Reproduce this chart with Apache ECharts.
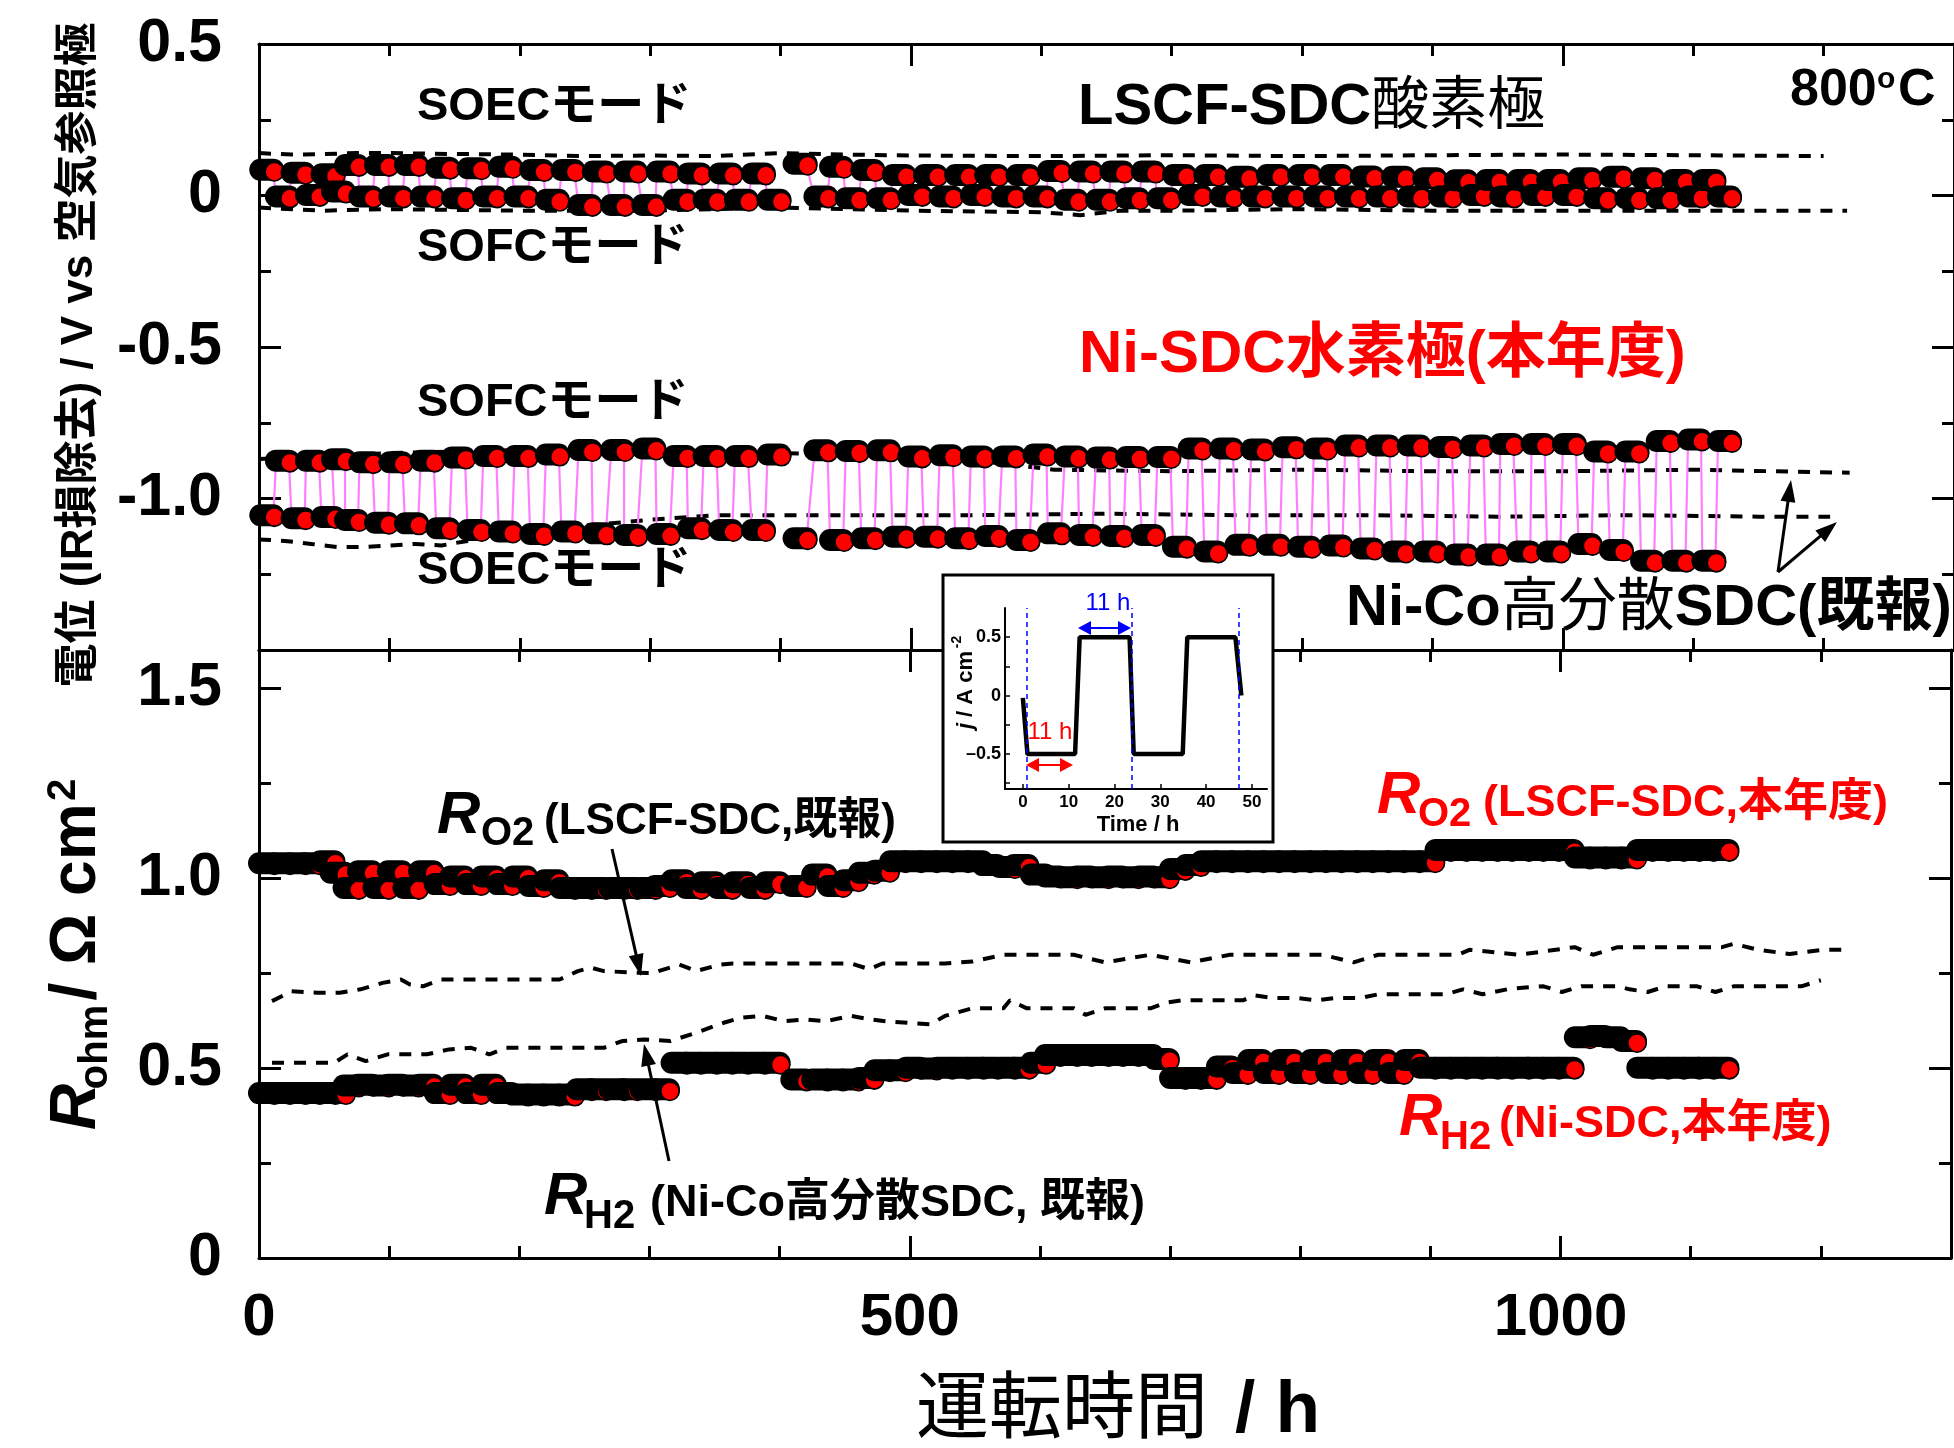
<!DOCTYPE html>
<html>
<head>
<meta charset="utf-8">
<script src="https://cdn.jsdelivr.net/npm/echarts@6.0.0/dist/echarts.min.js"></script>
<style>
html, body { margin: 0; padding: 0; background: #fff; }
#chart { width: 1954px; height: 1448px; }
</style>
</head>
<body>
<div id="chart"></div>
<script>
var FONT = '"Liberation Sans", "Noto Sans CJK JP", sans-serif';

// end time (h) of each SOEC / SOFC half-cycle
var soecTimes = [11,35,58,76,99,122,146,170,194,218,242,266,290,315,339,363,388,420,448,472,496,520,544,567,591,615,639,663,687,711,735,759,783,807,831,855,879,903,927,951,975,998,1022,1046,1070,1094,1117];
var sofcTimes = [23,46,66,87,110,134,158,182,206,230,255,280,304,328,351,375,400,436,460,484,508,532,556,580,604,628,652,675,699,723,747,771,795,819,843,867,891,915,939,962,986,1010,1034,1058,1082,1106,1129];

// potential, LSCF-SDC oxygen electrode (V)
var lscfSoec = [0.08,0.07,0.065,0.096,0.096,0.096,0.087,0.085,0.09,0.079,0.079,0.074,0.074,0.074,0.068,0.068,0.068,0.1,0.09,0.079,0.063,0.063,0.063,0.063,0.063,0.076,0.074,0.074,0.074,0.063,0.063,0.057,0.063,0.063,0.063,0.058,0.057,0.052,0.045,0.046,0.046,0.046,0.052,0.057,0.052,0.046,0.046];
var lscfSofc = [-0.008,-0.003,0.008,-0.008,-0.008,-0.008,-0.014,-0.008,-0.008,-0.019,-0.036,-0.036,-0.036,-0.019,-0.019,-0.019,-0.019,-0.008,-0.014,-0.014,-0.003,-0.008,-0.003,-0.008,-0.008,-0.019,-0.019,-0.014,-0.014,-0.003,-0.008,-0.008,-0.008,-0.008,-0.008,-0.008,-0.008,-0.008,-0.003,-0.008,-0.003,-0.003,-0.014,-0.014,-0.014,-0.008,-0.008];

// potential, Ni-SDC hydrogen electrode (V)
var niSdcSofc = [-0.88,-0.88,-0.875,-0.885,-0.885,-0.88,-0.87,-0.865,-0.865,-0.86,-0.845,-0.845,-0.84,-0.865,-0.865,-0.865,-0.86,-0.846,-0.848,-0.846,-0.866,-0.862,-0.866,-0.866,-0.86,-0.866,-0.87,-0.868,-0.868,-0.84,-0.84,-0.843,-0.836,-0.84,-0.83,-0.83,-0.83,-0.835,-0.83,-0.825,-0.825,-0.825,-0.85,-0.85,-0.815,-0.81,-0.815];
var niSdcSoec = [-1.06,-1.07,-1.066,-1.076,-1.085,-1.087,-1.103,-1.109,-1.114,-1.122,-1.114,-1.12,-1.125,-1.122,-1.103,-1.109,-1.109,-1.136,-1.142,-1.136,-1.131,-1.131,-1.136,-1.129,-1.142,-1.12,-1.125,-1.129,-1.125,-1.164,-1.18,-1.158,-1.158,-1.164,-1.16,-1.17,-1.18,-1.18,-1.19,-1.19,-1.18,-1.18,-1.155,-1.175,-1.21,-1.21,-1.21];

// ohmic resistance (ohm cm2)
var rO2Soec = [1.035,1.035,1.04,0.97,0.97,0.97,0.98,0.98,0.98,0.975,0.97,0.97,0.97,0.975,0.97,0.97,0.97,0.975,0.975,1.01,1.04,1.04,1.04,1.03,1.03,1.0,1.0,1.0,1.0,1.02,1.04,1.04,1.04,1.04,1.04,1.04,1.04,1.04,1.07,1.07,1.07,1.07,1.05,1.05,1.07,1.07,1.07];
var rO2Sofc = [1.035,1.035,1.01,1.014,1.014,1.014,1.0,1.0,1.0,0.99,0.97,0.97,0.97,0.99,0.985,0.985,0.985,1.005,0.99,1.015,1.04,1.04,1.04,1.025,1.005,0.998,0.998,0.998,0.998,1.03,1.04,1.04,1.04,1.04,1.04,1.04,1.04,1.07,1.07,1.07,1.07,1.07,1.05,1.05,1.07,1.07,1.07];
var rH2Soec = [0.43,0.43,0.43,0.45,0.45,0.45,0.43,0.43,0.43,0.426,0.426,0.44,0.44,0.44,0.51,0.51,0.51,0.466,0.466,0.47,0.49,0.495,0.497,0.497,0.497,0.53,0.53,0.53,0.53,0.47,0.47,0.483,0.483,0.483,0.483,0.483,0.483,0.497,0.497,0.497,0.497,0.497,0.577,0.577,0.497,0.497,0.497];
var rH2Sofc = [0.43,0.43,0.43,0.452,0.452,0.452,0.452,0.452,0.426,0.426,0.44,0.44,0.44,0.51,0.51,0.51,0.51,0.466,0.466,0.49,0.497,0.497,0.497,0.497,0.51,0.53,0.53,0.53,0.52,0.47,0.5,0.517,0.517,0.517,0.517,0.517,0.517,0.497,0.497,0.497,0.497,0.497,0.58,0.567,0.497,0.497,0.497];

// previous report (dashed)
var prevO2SoecT = [0,25,50,75,100,150,200,250,300,350,400,450,500,600,700,800,900,1000,1100,1200];
var prevO2SoecV = [0.14,0.135,0.137,0.14,0.14,0.137,0.135,0.13,0.132,0.13,0.14,0.135,0.132,0.13,0.133,0.13,0.133,0.135,0.133,0.13];
var prevO2SofcT = [0,50,100,200,300,400,500,600,630,660,700,800,900,1000,1100,1218];
var prevO2SofcV = [-0.04,-0.05,-0.045,-0.05,-0.05,-0.04,-0.05,-0.055,-0.065,-0.05,-0.05,-0.045,-0.05,-0.05,-0.05,-0.05];
var prevH2SofcT = [0,100,200,300,400,450,550,610,700,800,900,1000,1100,1220];
var prevH2SofcV = [-0.87,-0.85,-0.84,-0.84,-0.85,-0.855,-0.875,-0.905,-0.91,-0.905,-0.91,-0.91,-0.905,-0.915];
var prevH2SoecT = [0,20,40,60,80,100,120,140,160,180,250,300,350,450,550,650,750,850,950,1050,1150,1205];
var prevH2SoecV = [-1.135,-1.14,-1.15,-1.16,-1.16,-1.155,-1.15,-1.155,-1.14,-1.12,-1.09,-1.07,-1.055,-1.055,-1.055,-1.05,-1.055,-1.055,-1.06,-1.055,-1.06,-1.06];
var prevRO2T = [10,25,45,62,78,95,109,116,126,140,231,245,255,265,289,302,323,336,354,364,455,469,479,527,548,572,626,650,685,716,746,817,841,860,921,930,968,1011,1025,1044,1124,1133,1152,1176,1202,1218];
var prevRO2V = [0.676,0.702,0.698,0.698,0.707,0.724,0.733,0.72,0.715,0.733,0.733,0.755,0.764,0.755,0.751,0.75,0.772,0.755,0.772,0.775,0.775,0.76,0.775,0.775,0.78,0.798,0.798,0.778,0.798,0.778,0.798,0.798,0.778,0.798,0.798,0.811,0.798,0.818,0.798,0.818,0.818,0.827,0.811,0.8,0.811,0.811];
var prevRH2T = [10,58,68,82,99,129,146,163,177,190,265,279,296,316,336,357,370,387,404,420,435,455,469,482,516,527,548,572,577,590,626,635,650,685,697,709,756,765,779,798,812,827,846,860,912,925,940,959,973,987,1001,1016,1044,1053,1067,1081,1105,1119,1133,1185,1200];
var prevRH2V = [0.514,0.514,0.536,0.518,0.536,0.536,0.549,0.553,0.536,0.553,0.553,0.571,0.575,0.571,0.593,0.619,0.632,0.637,0.623,0.628,0.623,0.637,0.628,0.623,0.615,0.637,0.657,0.657,0.678,0.657,0.657,0.64,0.657,0.657,0.672,0.678,0.678,0.691,0.684,0.684,0.678,0.684,0.684,0.694,0.694,0.707,0.694,0.707,0.712,0.715,0.7,0.715,0.715,0.707,0.7,0.715,0.715,0.7,0.715,0.715,0.731];

// inset: current profile
var insetT = [0,1,11.4,12.4,23.3,24.2,34.9,35.9,46.4,47.7];
var insetJ = [-0.02,-0.5,-0.5,0.5,0.5,-0.5,-0.5,0.5,0.5,0];
var insetMarks = [0.9,23.8,47.2];

// tick labels
var xTickVals = [0,500,1000], xTickLabels = ['0','500','1000'];
var yTopVals = [-1.0,-0.5,0,0.5], yTopLabels = ['-1.0','-0.5','0','0.5'];
var yBotVals = [0,0.5,1.0,1.5], yBotLabels = ['0','0.5','1.0','1.5'];
var insetXVals = [0,10,20,30,40,50];
var insetYVals = [-0.5,0,0.5], insetYLabels = ['\u20130.5','0','0.5'];

function pick(vals, labels) {
  return function (v) {
    for (var i = 0; i < vals.length; i++) if (Math.abs(vals[i] - v) < 1e-6) return labels[i];
    return '';
  };
}
function pairs(t, v) { return t.map(function (x, i) { return [x, v[i]]; }); }
function seg(times, vals, dur) { return times.map(function (t, i) { return [t - dur, t, vals[i]]; }); }
function byTime(a, b) { return a.concat(b).sort(function (p, q) { return p[1] - q[1]; }); }
function zigzag(list) {
  var out = [];
  list.forEach(function (s, i) {
    if (i > 0 && s[0] - list[i - 1][1] > 6) out.push([s[0], '-']);
    out.push([s[0], s[2]], [s[1], s[2]]);
  });
  return out;
}

var o2Top = byTime(seg(soecTimes, lscfSoec, 10), seg(sofcTimes, lscfSofc, 10));
var h2Top = byTime(seg(soecTimes, niSdcSoec, 10), seg(sofcTimes, niSdcSofc, 10));
var o2Bot = byTime(seg(soecTimes, rO2Soec, 11), seg(sofcTimes, rO2Sofc, 11));
var h2Bot = byTime(seg(soecTimes, rH2Soec, 11), seg(sofcTimes, rH2Sofc, 11));

function blob(params, api) {
  var a = api.coord([api.value(0), api.value(2)]);
  var b = api.coord([api.value(1), api.value(2)]);
  var R = 11;
  return {
    type: 'group',
    children: [
      { type: 'rect', shape: { x: a[0] - R, y: b[1] - R - 1.5, width: b[0] - a[0] + 2 * R, height: 2 * R, r: R }, style: { fill: '#000' } },
      { type: 'circle', shape: { cx: b[0] + 1, cy: b[1] + 0.5, r: 9.2 }, style: { fill: '#ff0000', stroke: '#000', lineWidth: 1.6 } }
    ]
  };
}

var tickStyle = { color: '#000', width: 3 };
function xAx(grid, pos, interval, len, labels) {
  return {
    type: 'value', gridIndex: grid, position: pos, min: 0, max: 1300, interval: interval,
    axisLine: { show: len > 15, onZero: false, lineStyle: tickStyle },
    axisTick: { show: true, inside: true, length: len, lineStyle: tickStyle },
    axisLabel: labels ? { show: true, margin: 30, fontSize: 60, fontWeight: 'bold', fontFamily: FONT, color: '#000', formatter: pick(xTickVals, xTickLabels) } : { show: false },
    splitLine: { show: false }
  };
}
function yAx(grid, pos, min, max, interval, len, fmt) {
  return {
    type: 'value', gridIndex: grid, position: pos, min: min, max: max, interval: interval,
    axisLine: { show: len > 15, onZero: false, lineStyle: tickStyle },
    axisTick: { show: true, inside: true, length: len, lineStyle: tickStyle },
    axisLabel: fmt ? { show: true, margin: 37, fontSize: 61, fontWeight: 'bold', fontFamily: FONT, color: '#000', formatter: fmt } : { show: false },
    splitLine: { show: false }
  };
}
function dashed(ax, t, v) {
  return { type: 'line', xAxisIndex: ax, yAxisIndex: ax, data: pairs(t, v), symbol: 'none', silent: true, z: 2,
    lineStyle: { color: '#000', width: 4, type: [12, 10] } };
}
function zig(ax, list) {
  return { type: 'line', xAxisIndex: ax, yAxisIndex: ax, data: zigzag(list), symbol: 'none', silent: true, z: 3,
    connectNulls: false, lineStyle: { color: '#ff80ff', width: 2.2 } };
}
function blobs(ax, list) {
  return { type: 'custom', xAxisIndex: ax, yAxisIndex: ax, data: list, renderItem: blob, z: 4, clip: false, silent: true,
    encode: { x: [0, 1], y: 2 } };
}

function txt(x, y, s, size, o) {
  o = o || {};
  var st = {
    text: s, x: 0, y: 0, fontSize: size, fontWeight: o.weight || 'bold', fontStyle: o.italic ? 'italic' : 'normal',
    fontFamily: FONT, fill: o.color || '#000',
    align: o.align || 'left', verticalAlign: 'middle', textAlign: o.align || 'left', textVerticalAlign: 'middle'
  };
  if (o.rich) st.rich = o.rich;
  return { type: 'text', x: x, y: y, rotation: o.rot || 0, z: o.z || 40, silent: true, style: st };
}
function arrow(x1, y1, x2, y2, color, w, hl, hw, both) {
  var a = Math.atan2(y2 - y1, x2 - x1), c = Math.cos(a), s = Math.sin(a);
  function head(px, py, dc, ds) {
    var bx = px - hl * dc, by = py - hl * ds;
    return { type: 'polygon', z: 45, silent: true,
      shape: { points: [[px, py], [bx + hw / 2 * ds, by - hw / 2 * dc], [bx - hw / 2 * ds, by + hw / 2 * dc]] },
      style: { fill: color } };
  }
  var sx = both ? x1 + hl * 0.8 * c : x1, sy = both ? y1 + hl * 0.8 * s : y1;
  var els = [{ type: 'line', z: 45, silent: true, shape: { x1: sx, y1: sy, x2: x2 - hl * 0.8 * c, y2: y2 - hl * 0.8 * s },
    style: { stroke: color, lineWidth: w } }, head(x2, y2, c, s)];
  if (both) els.push(head(x1, y1, -c, -s));
  return els;
}

var RED = '#ff0000';
var g = [];
// inset frame
g.push({ type: 'rect', z: 10, silent: true, shape: { x: 943, y: 575, width: 330, height: 267 }, style: { fill: '#fff', stroke: '#000', lineWidth: 3 } });
// mode labels
g.push(txt(417, 107, 'SOECモード', 47));
g.push(txt(417, 248, 'SOFCモード', 47));
g.push(txt(417, 403, 'SOFCモード', 47));
g.push(txt(417, 571, 'SOECモード', 47));
g.push(txt(1078, 108, '{b|LSCF-SDC}{n|酸素極}', 58, { rich: {
  b: { fontSize: 58, fontWeight: 'bold', fontFamily: FONT, fill: '#000' },
  n: { fontSize: 58, fontWeight: 'normal', fontFamily: FONT, fill: '#000' } } }));
g.push(txt(1790, 91, '800', 52));
g.push(txt(1877, 80, 'o', 30));
g.push(txt(1898, 91, 'C', 52));
g.push(txt(1079, 355, 'Ni-SDC水素極(本年度)', 60, { color: RED }));
g.push(txt(1346, 609, '{b|Ni-Co}{n|高分散}{b|SDC(既報)}', 58, { rich: {
  b: { fontSize: 58, fontWeight: 'bold', fontFamily: FONT, fill: '#000' },
  n: { fontSize: 58, fontWeight: 'normal', fontFamily: FONT, fill: '#000' } } }));
g = g.concat(arrow(1778, 572, 1791, 480, '#000', 3, 22, 15));
g = g.concat(arrow(1778, 572, 1837, 522, '#000', 3, 22, 15));
// resistance labels
g.push(txt(437, 816, 'R', 60, { italic: true }));
g.push(txt(481, 834, 'O2', 40));
g.push(txt(544, 822, '(LSCF-SDC,既報)', 44));
g.push(txt(1377, 796, 'R', 60, { italic: true, color: RED }));
g.push(txt(1418, 815, 'O2', 40, { color: RED }));
g.push(txt(1483, 804, '(LSCF-SDC,本年度)', 45, { color: RED }));
g.push(txt(1399, 1118, 'R', 60, { italic: true, color: RED }));
g.push(txt(1440, 1138, 'H2', 40, { color: RED }));
g.push(txt(1499, 1125, '(Ni-SDC,本年度)', 45, { color: RED }));
g.push(txt(544, 1197, 'R', 60, { italic: true }));
g.push(txt(584, 1217, 'H2', 40));
g.push(txt(650, 1204, '(Ni-Co高分散SDC, 既報)', 45));
g = g.concat(arrow(612, 849, 641, 976, '#000', 3, 22, 15));
g = g.concat(arrow(669, 1161, 644, 1044, '#000', 3, 22, 15));
// axis names
g.push(txt(80, 355, '電位 (IR損除去) / V vs 空気参照極', 44, { rot: Math.PI / 2, align: 'center' }));
g.push(txt(77, 1107, 'R', 64, { rot: Math.PI / 2, align: 'center', italic: true }));
g.push(txt(96, 1047, 'ohm', 40, { rot: Math.PI / 2, align: 'center' }));
g.push(txt(77, 902, '/ Ω cm', 64, { rot: Math.PI / 2, align: 'center' }));
g.push(txt(64, 790, '2', 40, { rot: Math.PI / 2, align: 'center' }));
g.push(txt(916, 1412, '運転時間', 73, { weight: 'normal' }));
g.push(txt(1235, 1412, '/ h', 73));
// inset annotations
g.push(txt(1138, 825, 'Time / h', 22, { align: 'center' }));
g.push(txt(1050, 732, '11 h', 24, { align: 'center', weight: 'normal', color: RED }));
g.push(txt(1108, 603, '11 h', 24, { align: 'center', weight: 'normal', color: '#0000ff' }));
g.push(txt(966, 690, '{i|j}{b| / A cm}', 22, { rot: Math.PI / 2, align: 'center', rich: {
  i: { fontSize: 22, fontWeight: 'bold', fontStyle: 'italic', fontFamily: FONT, fill: '#000' },
  b: { fontSize: 22, fontWeight: 'bold', fontFamily: FONT, fill: '#000' } } }));
g.push(txt(957, 642, '-2', 14, { rot: Math.PI / 2, align: 'center' }));
g = g.concat(arrow(1026, 765, 1073, 765, RED, 2, 13, 14, true));
g = g.concat(arrow(1078, 628, 1131, 628, '#0000ff', 2, 13, 14, true));

var option = {
  animation: false,
  backgroundColor: '#fff',
  grid: [
    { left: 259, top: 44, width: 1709, height: 606 },
    { left: 259, top: 650, width: 1709, height: 608 },
    { left: 1005, top: 608, width: 262, height: 181, z: 20 }
  ],
  xAxis: [
    xAx(0, 'bottom', 500, 22, false), xAx(0, 'bottom', 100, 12, false),
    xAx(0, 'top', 500, 22, false), xAx(0, 'top', 100, 12, false),
    xAx(1, 'bottom', 500, 22, true), xAx(1, 'bottom', 100, 12, false),
    xAx(1, 'top', 500, 22, false), xAx(1, 'top', 100, 12, false),
    { type: 'value', gridIndex: 2, position: 'bottom', min: -3.9, max: 53.3, z: 20,
      axisLine: { onZero: false, lineStyle: { color: '#000', width: 2 } },
      axisTick: { inside: true, length: 5, customValues: insetXVals, lineStyle: { color: '#000', width: 1.5 } },
      axisLabel: { customValues: insetXVals, margin: 5, fontSize: 17, fontWeight: 'bold', fontFamily: FONT, color: '#000' },
      splitLine: { show: false } }
  ],
  yAxis: [
    yAx(0, 'left', -1.5, 0.5, 0.5, 22, pick(yTopVals, yTopLabels)), yAx(0, 'left', -1.5, 0.5, 0.25, 12, null),
    yAx(0, 'right', -1.5, 0.5, 0.5, 22, null), yAx(0, 'right', -1.5, 0.5, 0.25, 12, null),
    yAx(1, 'left', 0, 1.6, 0.5, 22, pick(yBotVals, yBotLabels)), yAx(1, 'left', 0, 1.6, 0.25, 12, null),
    yAx(1, 'right', 0, 1.6, 0.5, 22, null), yAx(1, 'right', 0, 1.6, 0.25, 12, null),
    { type: 'value', gridIndex: 2, position: 'left', min: -0.8, max: 0.75, z: 20,
      axisLine: { onZero: false, lineStyle: { color: '#000', width: 2 } },
      axisTick: { inside: true, length: 5, customValues: [-0.75, -0.5, -0.25, 0, 0.25, 0.5], lineStyle: { color: '#000', width: 1.5 } },
      axisLabel: { customValues: insetYVals, margin: 4, fontSize: 18, fontWeight: 'bold', fontFamily: FONT, color: '#000',
        formatter: pick(insetYVals, insetYLabels) },
      splitLine: { show: false } }
  ],
  graphic: { elements: g },
  series: [
    dashed(0, prevO2SoecT, prevO2SoecV), dashed(0, prevO2SofcT, prevO2SofcV),
    dashed(0, prevH2SofcT, prevH2SofcV), dashed(0, prevH2SoecT, prevH2SoecV),
    dashed(4, prevRO2T, prevRO2V), dashed(4, prevRH2T, prevRH2V),
    zig(0, o2Top), zig(0, h2Top),
    blobs(0, o2Top), blobs(0, h2Top), blobs(4, o2Bot), blobs(4, h2Bot),
    { type: 'line', xAxisIndex: 8, yAxisIndex: 8, data: pairs(insetT, insetJ), symbol: 'none', z: 20, silent: true,
      lineStyle: { color: '#000', width: 4.5 },
      markLine: { z: 25, silent: true, symbol: 'none', label: { show: false },
        lineStyle: { color: '#0000ff', width: 1.5, type: [5, 4] },
        data: insetMarks.map(function (t) { return { xAxis: t }; }) } }
  ]
};

var chart = echarts.init(document.getElementById('chart'));
chart.setOption(option);
</script>
</body>
</html>
